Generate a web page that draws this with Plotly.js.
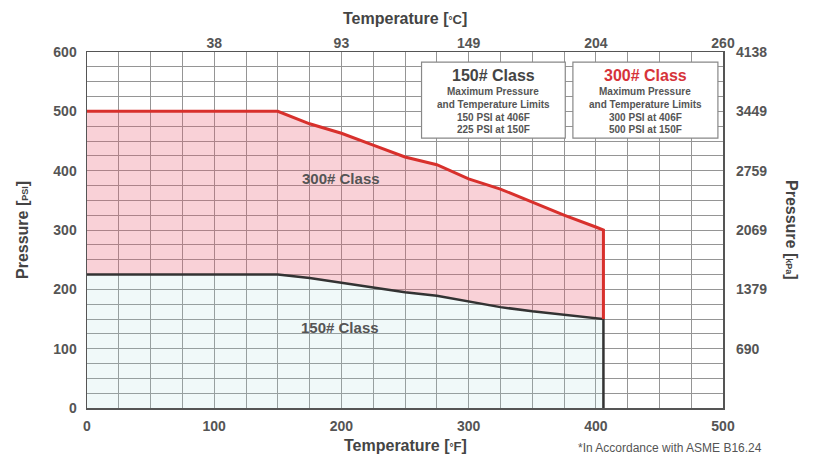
<!DOCTYPE html>
<html>
<head>
<meta charset="utf-8">
<script src="https://cdn.plot.ly/plotly-3.0.1.min.js"></script>
<style>
html,body{margin:0;padding:0;background:#fff;}
#chart{width:815px;height:457px;}
</style>
</head>
<body>
<div id="chart"></div>
<script>
// Temperature in °F
const tempF150 = [0, 150, 175, 200, 225, 250, 275, 300, 325, 350, 375, 400, 406, 406];
const psi150   = [225, 225, 219, 211, 204, 195, 189, 179, 170, 163, 157, 152, 150, 0];
const tempF300 = [0, 150, 175, 200, 225, 250, 275, 300, 325, 350, 375, 400, 406, 406];
const psi300   = [500, 500, 479, 463, 443, 423, 410, 386, 369, 347, 325, 305, 300, 150];

const xTicks = [0, 100, 200, 300, 400, 500];
const topTickVals = [100, 200, 300, 400, 500];
const topTickText = ['38', '93', '149', '204', '260'];
const yTicks = [0, 100, 200, 300, 400, 500, 600];
const kpaTickVals = [100, 200, 300, 400, 500, 600];
const kpaTickText = ['690', '1379', '2069', '2759', '3449', '4138'];

const FONT = 'Liberation Sans, Arial, sans-serif';
const GRID = '#959595';

const traces = [
  {
    x: tempF150, y: psi150, type: 'scatter', mode: 'lines',
    line: {color: '#333333', width: 2.5},
    fill: 'tozeroy', fillcolor: 'rgba(160,215,215,0.16)',
    hoverinfo: 'skip', showlegend: false
  },
  {
    x: tempF300, y: psi300, type: 'scatter', mode: 'lines',
    line: {color: '#d8302c', width: 3},
    fill: 'tonexty', fillcolor: 'rgba(235,90,110,0.28)',
    hoverinfo: 'skip', showlegend: false
  },
  {
    x: [0, 500], y: [0, 600], xaxis: 'x2', yaxis: 'y2', type: 'scatter', mode: 'markers',
    marker: {opacity: 0}, hoverinfo: 'skip', showlegend: false
  }
];

const tickFont = {family: FONT, size: 14, color: '#555555', weight: 'bold'};
const titleFont = {family: FONT, size: 16, color: '#444', weight: 'bold'};

const layout = {
  width: 815, height: 457,
  margin: {l: 87, r: 92, t: 52, b: 49},
  paper_bgcolor: '#ffffff', plot_bgcolor: '#ffffff',
  font: {family: FONT},
  xaxis: {
    range: [0, 500], tickvals: xTicks, showgrid: true, gridcolor: GRID, gridwidth: 1,
    minor: {dtick: 25, showgrid: true, gridcolor: GRID, gridwidth: 1},
    zeroline: false, showline: true, linecolor: '#555', linewidth: 1.5, mirror: true,
    ticks: '', tickfont: tickFont, ticklabelstandoff: 5, fixedrange: true
  },
  yaxis: {
    range: [0, 600], tickvals: yTicks, showgrid: true, gridcolor: GRID, gridwidth: 1,
    minor: {dtick: 25, showgrid: true, gridcolor: GRID, gridwidth: 1},
    zeroline: false, showline: true, linecolor: '#555', linewidth: 1.5, mirror: true,
    ticks: '', tickfont: tickFont, ticklabelstandoff: 6, fixedrange: true
  },
  xaxis2: {
    overlaying: 'x', side: 'top', range: [0, 500], tickvals: topTickVals, ticktext: topTickText,
    showgrid: false, zeroline: false, ticks: '', tickfont: tickFont, fixedrange: true
  },
  yaxis2: {
    overlaying: 'y', side: 'right', range: [0, 600], tickvals: kpaTickVals, ticktext: kpaTickText,
    showgrid: false, zeroline: false, ticks: '', tickfont: tickFont, ticklabelstandoff: 12, fixedrange: true
  },
  shapes: [
    {type: 'rect', xref: 'x', yref: 'y', x0: 263, x1: 376, y0: 455, y1: 583,
     fillcolor: '#ffffff', line: {color: '#888', width: 1.2}, layer: 'above'},
    {type: 'rect', xref: 'x', yref: 'y', x0: 382, x1: 496, y0: 455, y1: 583,
     fillcolor: '#ffffff', line: {color: '#888', width: 1.2}, layer: 'above'}
  ],
  annotations: [
    {xref: 'paper', yref: 'paper', x: 0.5, y: 1, yshift: 34, yanchor: 'middle', xanchor: 'center', showarrow: false,
     text: 'Temperature [<span style="font-size:10px">°</span><span style="font-size:13px">C</span>]',
     font: titleFont},
    {xref: 'paper', yref: 'paper', x: 0.5, y: 0, yshift: -37, yanchor: 'middle', xanchor: 'center', showarrow: false,
     text: 'Temperature [<span style="font-size:10px">°</span><span style="font-size:13px">F</span>]',
     font: titleFont},
    {xref: 'paper', yref: 'paper', x: 0, y: 0.5, xshift: -65, xanchor: 'center', yanchor: 'middle', showarrow: false, textangle: -90,
     text: 'Pressure [<span style="font-size:9px">PSI</span>]',
     font: titleFont},
    {xref: 'paper', yref: 'paper', x: 1, y: 0.5, xshift: 69, xanchor: 'center', yanchor: 'middle', showarrow: false, textangle: 90,
     text: 'Pressure [<span style="font-size:9px">kPa</span>]',
     font: titleFont},
    {xref: 'x', yref: 'y', x: 200, y: 387, showarrow: false, text: '<b>300# Class</b>',
     font: {family: FONT, size: 15, color: '#555'}},
    {xref: 'x', yref: 'y', x: 199, y: 135, showarrow: false, text: '<b>150# Class</b>',
     font: {family: FONT, size: 15, color: '#555'}},
    {xref: 'x', yref: 'y', x: 319.5, y: 561, showarrow: false, text: '<b>150# Class</b>',
     font: {family: FONT, size: 16, color: '#444'}},
    {xref: 'x', yref: 'y', x: 319.5, y: 533, showarrow: false, text: '<b>Maximum Pressure</b>',
     font: {family: FONT, size: 10, color: '#555'}},
    {xref: 'x', yref: 'y', x: 319.5, y: 511, showarrow: false, text: '<b>and Temperature Limits</b>',
     font: {family: FONT, size: 10, color: '#555'}},
    {xref: 'x', yref: 'y', x: 319.5, y: 489, showarrow: false, text: '<b>150 PSI at 406F</b>',
     font: {family: FONT, size: 10, color: '#555'}},
    {xref: 'x', yref: 'y', x: 319.5, y: 469, showarrow: false, text: '<b>225 PSI at 150F</b>',
     font: {family: FONT, size: 10, color: '#555'}},
    {xref: 'x', yref: 'y', x: 439, y: 561, showarrow: false, text: '<b>300# Class</b>',
     font: {family: FONT, size: 16, color: '#d6333a'}},
    {xref: 'x', yref: 'y', x: 439, y: 533, showarrow: false, text: '<b>Maximum Pressure</b>',
     font: {family: FONT, size: 10, color: '#555'}},
    {xref: 'x', yref: 'y', x: 439, y: 511, showarrow: false, text: '<b>and Temperature Limits</b>',
     font: {family: FONT, size: 10, color: '#555'}},
    {xref: 'x', yref: 'y', x: 439, y: 489, showarrow: false, text: '<b>300 PSI at 406F</b>',
     font: {family: FONT, size: 10, color: '#555'}},
    {xref: 'x', yref: 'y', x: 439, y: 469, showarrow: false, text: '<b>500 PSI at 150F</b>',
     font: {family: FONT, size: 10, color: '#555'}},
    {xref: 'paper', yref: 'paper', x: 0.917, y: 0, yshift: -40, xanchor: 'center', yanchor: 'middle', showarrow: false,
     text: '*In Accordance with ASME B16.24',
     font: {family: FONT, size: 12, color: '#555'}}
  ]
};

Plotly.newPlot('chart', traces, layout, {displayModeBar: false, staticPlot: true});
</script>
</body>
</html>
